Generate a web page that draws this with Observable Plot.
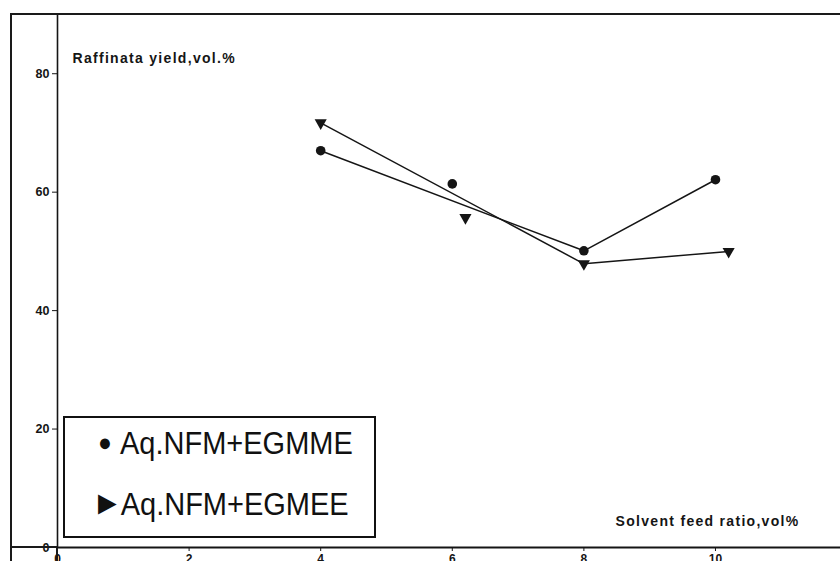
<!DOCTYPE html>
<html>
<head>
<meta charset="utf-8">
<script src="https://cdn.jsdelivr.net/npm/d3@7"></script>
<script src="https://cdn.jsdelivr.net/npm/@observablehq/plot@0.6"></script>
<style>
  html, body { margin: 0; padding: 0; background: #fff; }
  #chart { position: relative; width: 840px; height: 561px; overflow: hidden; font-family: "Liberation Sans", Arial, sans-serif; color: #111; }
  #chart svg { position: absolute; left: 0; top: 0; }
  .frame { position: absolute; background: #1a1a1a; }
  .legend { position: absolute; left: 63px; top: 416px; width: 309px; height: 118px; border: 2px solid #111; background: #fff; }
  .legend .row { position: absolute; font-size: 29px; line-height: 1; white-space: nowrap; color: #111; transform: scaleY(1.08); transform-origin: left bottom; }
</style>
</head>
<body>
<div id="chart"></div>
<script>
// Solvent feed ratio (vol%) and raffinate yield (vol.%) for the two solvent systems
const seriesNames = ["Aq.NFM+EGMME", "Aq.NFM+EGMEE"];
const ratioEGMME = [4, 6, 8, 10];
const yieldEGMME = [67.0, 61.4, 50.1, 62.1];
const joinedEGMME = [true, false, true, true];
const ratioEGMEE = [4, 6.2, 8, 10.2];
const yieldEGMEE = [71.7, 55.7, 47.9, 50.0];
const joinedEGMEE = [true, false, true, true];
const xTicks = [0, 2, 4, 6, 8, 10];
const yTicks = [0, 20, 40, 60, 80];
const yLabel = "Raffinata yield,vol.%";
const xLabel = "Solvent feed ratio,vol%";

const toRows = (name, xs, ys, joined) =>
  xs.map((x, i) => ({series: name, ratio: x, yield: ys[i], joined: joined[i]}));
const rowsEGMME = toRows(seriesNames[0], ratioEGMME, yieldEGMME, joinedEGMME);
const rowsEGMEE = toRows(seriesNames[1], ratioEGMEE, yieldEGMEE, joinedEGMEE);

const ink = "#151515";

const plot = Plot.plot({
  width: 840,
  height: 561,
  marginLeft: 57,
  marginRight: 0,
  marginTop: 14,
  marginBottom: 14,
  style: {fontFamily: "'Liberation Sans', Arial, sans-serif", color: ink, background: "transparent"},
  x: {domain: [0, 11.9]},
  y: {domain: [0, 90]},
  marks: [
    Plot.ruleY([0], {stroke: ink, strokeWidth: 2}),
    Plot.ruleX([0], {stroke: ink, strokeWidth: 1.6}),
    Plot.axisY({ticks: yTicks, tickSize: 5, tickPadding: 3, fontSize: 12.5, fontWeight: "bold", stroke: ink, fill: ink, label: null}),
    Plot.axisX({ticks: xTicks, tickSize: 4, tickPadding: 3, fontSize: 12, fontWeight: "bold", stroke: ink, fill: ink, label: null}),
    Plot.line(rowsEGMME.filter(d => d.joined), {x: "ratio", y: "yield", stroke: ink, strokeWidth: 1.5}),
    Plot.line(rowsEGMEE.filter(d => d.joined), {x: "ratio", y: "yield", stroke: ink, strokeWidth: 1.5}),
    Plot.dot(rowsEGMME, {x: "ratio", y: "yield", r: 4.8, fill: ink, stroke: "none"}),
    Plot.dot(rowsEGMEE, {x: "ratio", y: "yield", symbol: "triangle2", r: 5.8, rotate: 180, fill: ink, stroke: "none"}),
    Plot.text([yLabel], {frameAnchor: "top-left", textAnchor: "start", lineAnchor: "middle", dx: 15, dy: 44,
      fontSize: 14, fontWeight: "bold", fill: ink}),
    Plot.text([xLabel], {frameAnchor: "bottom-right", textAnchor: "end", lineAnchor: "middle", dx: -41, dy: -26,
      fontSize: 14, fontWeight: "bold", fill: ink})
  ]
});
plot.querySelectorAll("text").forEach(t => {
  if (t.textContent === yLabel || t.textContent === xLabel) t.setAttribute("letter-spacing", "1.3");
});

const chart = document.getElementById("chart");
chart.appendChild(plot);

// outer table-like frame around the axes
const addLine = (l, t, w, h) => {
  const d = document.createElement("div");
  d.className = "frame";
  Object.assign(d.style, {left: l + "px", top: t + "px", width: w + "px", height: h + "px"});
  chart.appendChild(d);
};
addLine(10, 13, 830, 2);     // top rule
addLine(10, 13, 1.5, 548);   // outer left rule
addLine(10, 546, 47, 2);     // bottom rule left of the y axis
addLine(56, 548, 1.5, 13);   // y axis continuing below the x axis

// legend box
const legend = document.createElement("div");
legend.className = "legend";
const row1 = document.createElement("div");
row1.className = "row";
row1.style.left = "33px"; row1.style.top = "12px";
row1.innerHTML = '<span style="font-size:23px;position:relative;top:-2px">\u25CF</span>\u00A0' + seriesNames[0];
const row2 = document.createElement("div");
row2.className = "row";
row2.style.left = "27px"; row2.style.top = "71px";
row2.innerHTML = '<span style="font-size:31px;position:relative;top:-1px;letter-spacing:-2px">\u25BA</span>' + seriesNames[1];
legend.appendChild(row1);
legend.appendChild(row2);
chart.appendChild(legend);
</script>
</body>
</html>
